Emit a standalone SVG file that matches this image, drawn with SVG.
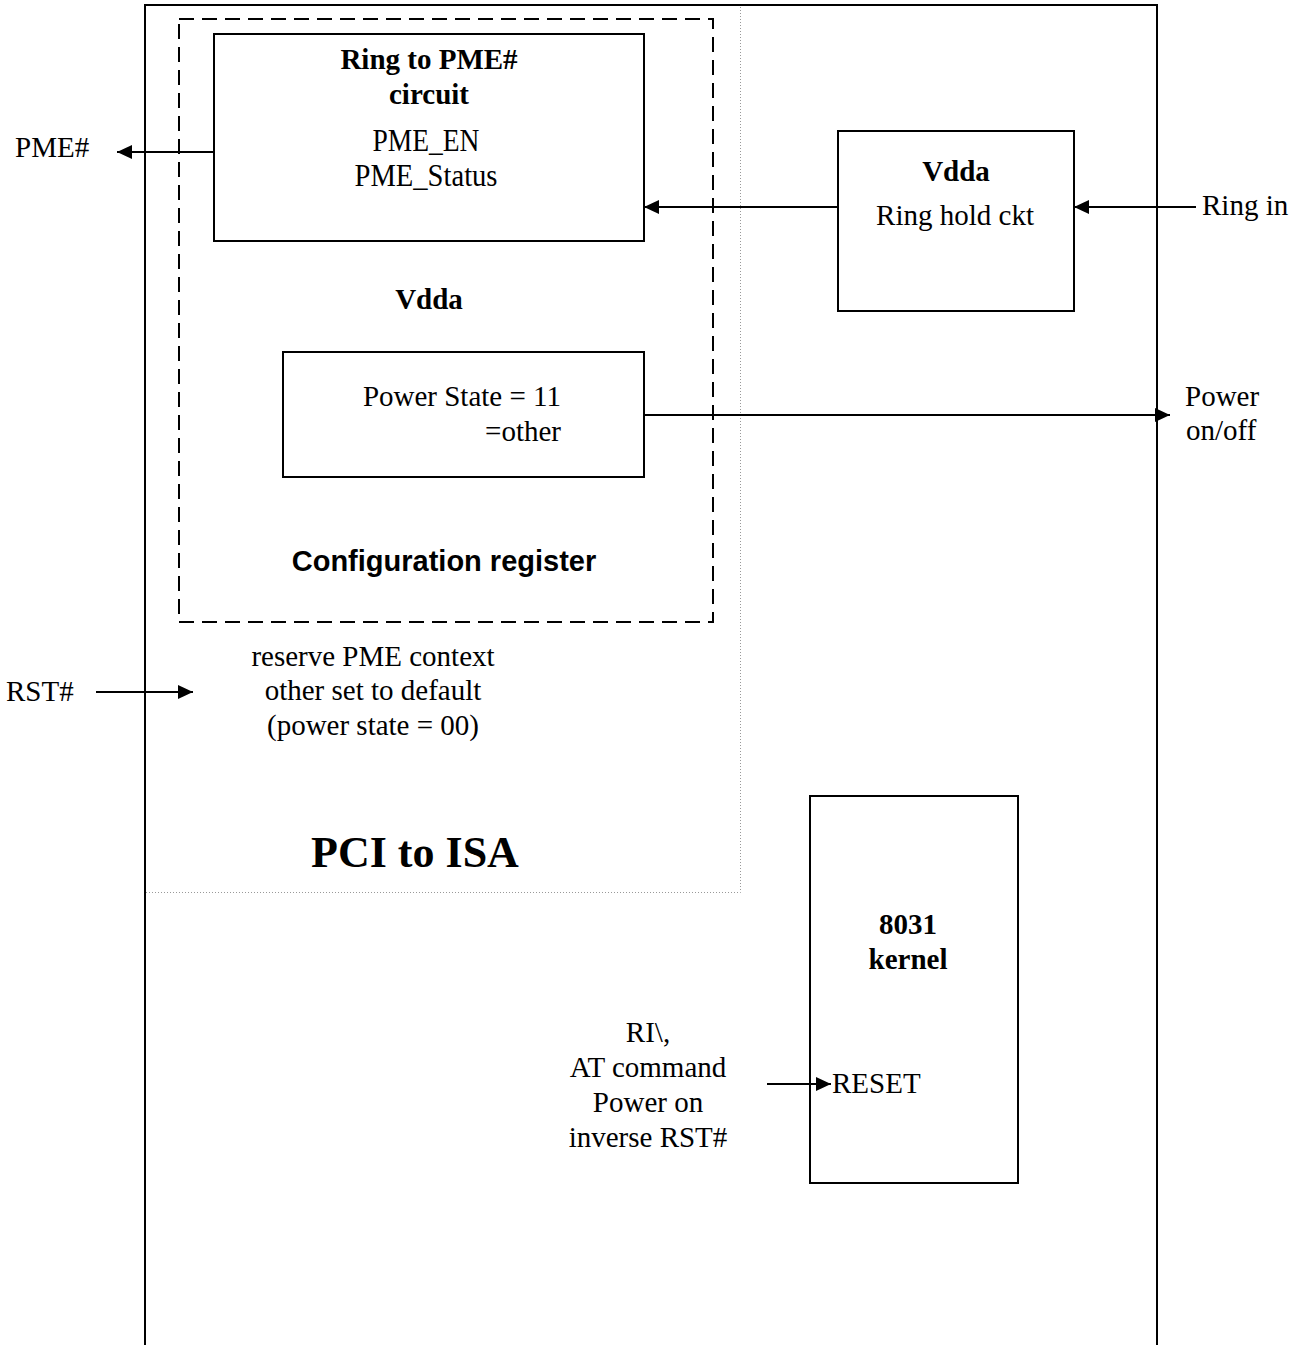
<svg xmlns="http://www.w3.org/2000/svg" width="1305" height="1345" viewBox="0 0 1305 1345">
<defs>
<style>
.box{fill:#fff;stroke:#000;stroke-width:2}
.frame{fill:none;stroke:#000;stroke-width:2}
.dash{fill:none;stroke:#000;stroke-width:2;stroke-dasharray:15 8}
.dot{fill:none;stroke:#999;stroke-width:1;stroke-dasharray:1 2}
.wire{fill:none;stroke:#000;stroke-width:2}
.t{font-family:"Liberation Serif","Times New Roman",serif;font-size:29px;fill:#000}
.b{font-weight:bold}
.c{text-anchor:middle}
.e{text-anchor:end}
.s{font-family:"Liberation Sans",Arial,sans-serif;font-size:29px;font-weight:bold;fill:#000}
.big{font-size:44px}
.tall{font-size:31px}
</style>
<marker id="ah" markerWidth="15" markerHeight="14" refX="15" refY="7" orient="auto" markerUnits="userSpaceOnUse">
<path d="M0,0 L15,7 L0,14 Z" fill="#000"/>
</marker>
</defs>
<rect width="1305" height="1345" fill="#fff"/>

<g id="pci-to-isa-region">
<path class="dot" d="M146,892.5 H740.5 V5"/>
<text class="t b c big" x="415" y="867">PCI to ISA</text>
</g>

<g id="chip-frame">
<path class="frame" d="M145,1345 V5 H1157 V1345"/>
</g>

<g id="configuration-register">
<rect class="dash" x="179" y="19" width="534" height="603"/>
<text class="t b c" x="429" y="309">Vdda</text>
<text class="s" x="444" y="571" text-anchor="middle">Configuration register</text>
</g>

<g id="ring-to-pme">
<rect class="box" x="214" y="34" width="430" height="207"/>
<text class="t b c" x="429" y="69">Ring to PME#</text>
<text class="t b c" x="429" y="104">circuit</text>
<text class="t tall c" x="426" y="151" textLength="107" lengthAdjust="spacingAndGlyphs">PME_EN</text>
<text class="t tall c" x="426" y="186" textLength="143" lengthAdjust="spacingAndGlyphs">PME_Status</text>
</g>

<g id="power-state">
<rect class="box" x="283" y="352" width="361" height="125"/>
<text class="t e" x="561" y="406">Power State = 11</text>
<text class="t e" x="561" y="441">=other</text>
</g>

<g id="ring-hold">
<rect class="box" x="838" y="131" width="236" height="180"/>
<text class="t b c" x="956" y="181">Vdda</text>
<text class="t c" x="955" y="225">Ring hold ckt</text>
</g>

<g id="kernel-8031">
<rect class="box" x="810" y="796" width="208" height="387"/>
<text class="t b c" x="908" y="934">8031</text>
<text class="t b c" x="908" y="969">kernel</text>
<text class="t" x="832" y="1093">RESET</text>
</g>

<g id="labels">
<text class="t" x="15" y="157">PME#</text>
<text class="t" x="1202" y="215">Ring in</text>
<text class="t" x="1185" y="406">Power</text>
<text class="t" x="1186" y="440">on/off</text>
<text class="t" x="6" y="701">RST#</text>
<text class="t c" x="373" y="666">reserve PME context</text>
<text class="t c" x="373" y="700">other set to default</text>
<text class="t c" x="373" y="735">(power state = 00)</text>
<text class="t c" x="648" y="1042">RI\,</text>
<text class="t c" x="648" y="1077">AT command</text>
<text class="t c" x="648" y="1112">Power on</text>
<text class="t c" x="648" y="1147">inverse RST#</text>
</g>

<g id="connectors">
<line class="wire" x1="214" y1="152" x2="117" y2="152" marker-end="url(#ah)"/>
<line class="wire" x1="838" y1="207" x2="644" y2="207" marker-end="url(#ah)"/>
<line class="wire" x1="1196" y1="207" x2="1074" y2="207" marker-end="url(#ah)"/>
<line class="wire" x1="644" y1="415" x2="1170" y2="415" marker-end="url(#ah)"/>
<line class="wire" x1="96" y1="692" x2="193" y2="692" marker-end="url(#ah)"/>
<line class="wire" x1="767" y1="1084" x2="831" y2="1084" marker-end="url(#ah)"/>
</g>
</svg>
